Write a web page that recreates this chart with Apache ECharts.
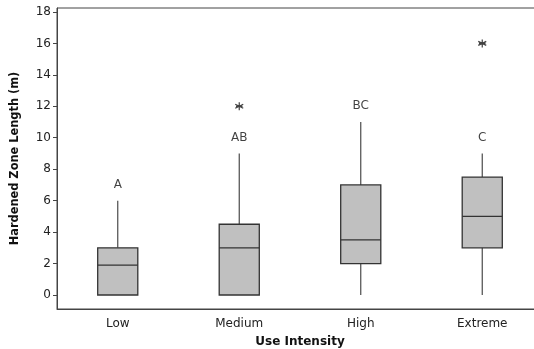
<!DOCTYPE html>
<html><head><meta charset="utf-8">
<script src="https://cdn.jsdelivr.net/npm/echarts@6/dist/echarts.min.js"></script>
<style>html,body{margin:0;padding:0;background:#fff}#c{width:534px;height:349px}</style>
</head><body><div id="c"></div>
<script>
const categories = ['Low', 'Medium', 'High', 'Extreme'];
// [min, Q1, median, Q3, max]
const boxLow = [0, 0, 1.9, 3, 6];
const boxMedium = [0, 0, 3, 4.5, 9];
const boxHigh = [0, 2, 3.5, 7, 11];
const boxExtreme = [0, 3, 5, 7.5, 9];
const outliers = [['Medium', 12], ['Extreme', 16]];
const groupLetters = ['A', 'AB', 'BC', 'C'];
const letterValues = [7, 10, 12, 10];
const yTicks = [0, 2, 4, 6, 8, 10, 12, 14, 16, 18];

const font = 'DejaVu Sans';
const axisColor = '#444';
const boxes = [boxLow, boxMedium, boxHigh, boxExtreme];
const chart = echarts.init(document.getElementById('c'));

function renderBox(params, api) {
  const i = api.value(0);
  const pMin = api.coord([i, api.value(1)]);
  const pQ1 = api.coord([i, api.value(2)]);
  const pMed = api.coord([i, api.value(3)]);
  const pQ3 = api.coord([i, api.value(4)]);
  const pMax = api.coord([i, api.value(5)]);
  const x = pMed[0];
  const hw = api.size([1, 0])[0] * 0.165;
  const lineStyle = { stroke: '#333', lineWidth: 1.3 };
  const whisk = { stroke: '#4a4a4a', lineWidth: 1.2 };
  return {
    type: 'group',
    children: [
      { type: 'line', shape: { x1: x, y1: pQ3[1], x2: x, y2: pMax[1] }, style: whisk },
      { type: 'line', shape: { x1: x, y1: pQ1[1], x2: x, y2: pMin[1] }, style: whisk },
      { type: 'rect', shape: { x: x - hw, y: pQ3[1], width: hw * 2, height: pQ1[1] - pQ3[1] },
        style: { fill: '#c0c0c0', stroke: '#333', lineWidth: 1.3 } },
      { type: 'line', shape: { x1: x - hw, y1: pMed[1], x2: x + hw, y2: pMed[1] }, style: lineStyle }
    ]
  };
}

chart.setOption({
  animation: false,
  grid: { left: 57, top: 8, width: 486, bottom: 40, outerBoundsMode: 'none', containLabel: false,
          show: true, borderColor: axisColor, borderWidth: 1, backgroundColor: '#fff' },
  xAxis: {
    type: 'category', data: categories, boundaryGap: true,
    name: 'Use Intensity', nameLocation: 'middle', nameGap: 27,
    nameTextStyle: { fontFamily: font, fontSize: 12, fontWeight: 'bold', color: '#111' },
    axisLine: { onZero: false, lineStyle: { color: axisColor } },
    axisTick: { alignWithLabel: true, length: 4, lineStyle: { color: axisColor } },
    axisLabel: { fontFamily: font, fontSize: 12, color: '#222', margin: 9 },
    splitLine: { show: false }
  },
  yAxis: {
    type: 'value', min: -0.89, max: 18.25,
    name: 'Hardened Zone Length (m)', nameLocation: 'middle', nameGap: 36, nameRotate: 90,
    nameTextStyle: { fontFamily: font, fontSize: 11.4, fontWeight: 'bold', color: '#111' },
    axisLine: { show: true, onZero: false, lineStyle: { color: axisColor } },
    axisTick: { show: true, length: 4, customValues: yTicks, lineStyle: { color: axisColor } },
    axisLabel: { fontFamily: font, fontSize: 12, color: '#222', margin: 6, customValues: yTicks },
    splitLine: { show: false }
  },
  series: [
    {
      type: 'custom',
      renderItem: renderBox,
      encode: { x: 0, y: [1, 2, 3, 4, 5] },
      data: boxes.map((b, i) => [i, ...b]),
      z: 3
    },
    {
      type: 'scatter',
      data: outliers,
      symbol: 'path://M5 0 L5 10 M0.7 2.5 L9.3 7.5 M0.7 7.5 L9.3 2.5 M1.5 5 L8.5 5',
      symbolSize: 8,
      itemStyle: { color: 'none', borderColor: '#111', borderWidth: 1.2 },
      z: 4
    },
    {
      type: 'scatter',
      data: categories.map((c, i) => [c, letterValues[i], groupLetters[i]]),
      symbolSize: 0,
      label: { show: true, position: 'inside', formatter: p => p.data[2], fontFamily: font, fontSize: 12, color: '#111' },
      z: 5
    }
  ]
});
</script></body></html>
